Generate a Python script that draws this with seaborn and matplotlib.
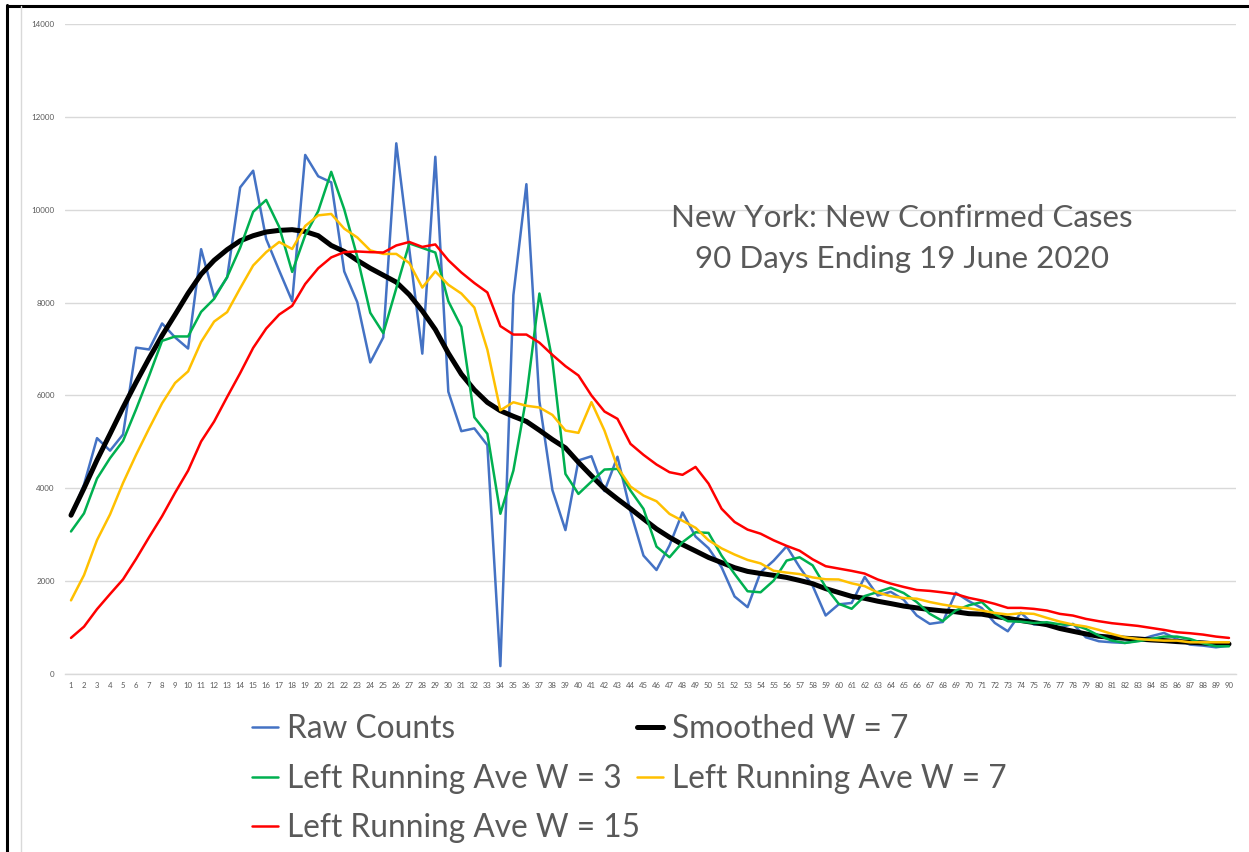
import numpy as np
import pandas as pd
import seaborn as sns
import matplotlib.pyplot as plt
from matplotlib.lines import Line2D

days = list(range(1, 91))

raw_counts = [
    3400, 4080, 5080, 4810, 5160, 7030, 6990, 7550, 7250, 7010,
    9150, 8120, 8540, 10480, 10840, 9370, 8690, 8030, 11180, 10720,
    10590, 8670, 8010, 6710, 7250, 11430, 9150, 6900, 11140, 6080,
    5230, 5290, 4930, 170, 8160, 10550, 5880, 3960, 3100, 4600,
    4690, 3940, 4680, 3500, 2550, 2240, 2770, 3480, 2960, 2710,
    2300, 1670, 1440, 2190, 2440, 2750, 2300, 1900, 1260, 1500,
    1530, 2090, 1690, 1770, 1600, 1260, 1080, 1120, 1750, 1570,
    1420, 1100, 920, 1320, 1065, 1080, 1000, 1080, 790, 705,
    683, 669, 719, 813, 885, 755, 633, 611, 575, 611,
]

smoothed_w7 = [
    3420, 4000, 4610, 5170, 5740, 6280, 6800, 7290, 7740, 8200,
    8610, 8910, 9140, 9330, 9440, 9520, 9555, 9570, 9530, 9440,
    9230, 9100, 8910, 8740, 8590, 8440, 8170, 7820, 7420, 6910,
    6460, 6120, 5850, 5670, 5550, 5440, 5250, 5050, 4870, 4560,
    4270, 3990, 3770, 3560, 3340, 3125, 2945, 2787, 2650, 2510,
    2400, 2290, 2210, 2165, 2125, 2080, 2015, 1945, 1839, 1755,
    1672, 1630, 1568, 1517, 1463, 1424, 1388, 1359, 1340, 1300,
    1289, 1242, 1199, 1152, 1109, 1062, 980, 921, 863, 813,
    791, 770, 755, 734, 719, 698, 683, 669, 647, 647,
]

left_ave_w3 = [
    3070, 3460, 4210, 4650, 5020, 5700, 6420, 7175, 7270, 7270,
    7800, 8080, 8550, 9180, 9955, 10210, 9630, 8660, 9450, 9970,
    10816, 10008, 8988, 7780, 7342, 8308, 9275, 9177, 9078, 8029,
    7477, 5529, 5174, 3452, 4381, 5967, 8195, 6750, 4310, 3879,
    4145, 4404, 4418, 3951, 3556, 2744, 2514, 2838, 3053, 3039,
    2550, 2155, 1782, 1760, 2011, 2443, 2514, 2340, 1874, 1513,
    1405, 1679, 1766, 1859, 1744, 1550, 1297, 1139, 1369, 1480,
    1550, 1290, 1137, 1127, 1098, 1115, 1070, 1065, 971, 827,
    719, 669, 705, 755, 806, 806, 755, 662, 597, 597,
]

left_ave_w7 = [
    1586, 2130, 2885, 3437, 4116, 4721, 5287, 5831, 6269, 6518,
    7153, 7591, 7795, 8308, 8799, 9086, 9305, 9154, 9650, 9879,
    9909, 9592, 9403, 9124, 9048, 9048, 8852, 8323, 8671, 8384,
    8195, 7893, 6986, 5680, 5853, 5778, 5740, 5580, 5244, 5194,
    5855, 5244, 4454, 4037, 3843, 3721, 3448, 3300, 3150, 2880,
    2706, 2573, 2457, 2382, 2224, 2184, 2152, 2080, 2040, 2036,
    1953, 1892, 1755, 1676, 1636, 1622, 1550, 1495, 1450, 1415,
    1367, 1316, 1281, 1309, 1295, 1209, 1129, 1065, 1022, 950,
    863, 791, 755, 734, 719, 719, 683, 683, 683, 683,
]

left_ave_w15 = [
    778, 1020, 1397, 1722, 2039, 2477, 2946, 3399, 3905, 4381,
    5008, 5438, 5967, 6480, 7024, 7440, 7742, 7931, 8400, 8739,
    8973, 9086, 9101, 9086, 9078, 9230, 9305, 9199, 9252, 8912,
    8648, 8421, 8218, 7493, 7311, 7311, 7137, 6873, 6631, 6430,
    5999, 5654, 5496, 4957, 4720, 4512, 4346, 4290, 4460, 4100,
    3560, 3275, 3110, 3022, 2880, 2760, 2655, 2470, 2322, 2271,
    2221, 2163, 2036, 1947, 1875, 1810, 1790, 1758, 1722, 1640,
    1583, 1511, 1424, 1424, 1403, 1367, 1295, 1259, 1187, 1137,
    1094, 1065, 1036, 993, 950, 899, 878, 849, 806, 777,
]

df = pd.DataFrame({
    "Day": days,
    "Raw Counts": raw_counts,
    "Smoothed W = 7": smoothed_w7,
    "Left Running Ave W = 3": left_ave_w3,
    "Left Running Ave W = 7": left_ave_w7,
    "Left Running Ave W = 15": left_ave_w15,
})

styles = {
    "Raw Counts": ("#4472C4", 1.8),
    "Smoothed W = 7": ("#000000", 3.6),
    "Left Running Ave W = 3": ("#00B050", 1.8),
    "Left Running Ave W = 7": ("#FFC000", 1.8),
    "Left Running Ave W = 15": ("#FF0000", 1.8),
}

sns.set_style("white")
plt.rcParams["font.family"] = ["Lato", "DejaVu Sans"]

W, H = 1249, 852
fig = plt.figure(figsize=(W / 100, H / 100), dpi=100)
ax = fig.add_axes([64.5 / W, 1 - 674 / H, (1235.5 - 64.5) / W, (674 - 24) / H])

for name, (col, lw) in styles.items():
    sns.lineplot(data=df, x="Day", y=name, color=col, linewidth=lw, ax=ax, label=name, legend=False)

ax.set_xlim(0.5, 90.5)
ax.set_ylim(0, 14000)
ax.set_xticks(days)
ax.set_xticklabels([str(d) for d in days])
ax.set_yticks(range(0, 14001, 2000))
ax.set_xlabel("")
ax.set_ylabel("")
ax.grid(axis="y", color="#d9d9d9", linewidth=1.0)
ax.grid(axis="x", visible=False)
ax.set_axisbelow(True)
for s in ["top", "right", "left"]:
    ax.spines[s].set_visible(False)
ax.spines["bottom"].set_color("#d9d9d9")
ax.spines["bottom"].set_linewidth(1.0)
ax.tick_params(axis="both", length=0, colors="#595959")
ax.tick_params(axis="x", labelsize=5.6, pad=6)
ax.tick_params(axis="y", labelsize=5.8, pad=7)

fig.text(902 / W, 1 - 218 / H, "New York: New Confirmed Cases", ha="center", va="center",
         fontsize=22.6, color="#595959")
fig.text(902 / W, 1 - 259 / H, "90 Days Ending 19 June 2020", ha="center", va="center",
         fontsize=22.6, color="#595959")

order = ["Raw Counts", "Left Running Ave W = 3", "Left Running Ave W = 15",
         "Smoothed W = 7", "Left Running Ave W = 7"]
handles = [Line2D([], [], color=styles[n][0], linewidth=styles[n][1]) for n in order]
leg = fig.legend(handles, order, loc="upper left", bbox_to_anchor=(252 / W, 1 - 714 / H),
                 ncol=2, frameon=False, fontsize=22.8, handlelength=0.82, handletextpad=0.28,
                 labelspacing=0.62, columnspacing=-0.1, borderpad=0, borderaxespad=0)
for t in leg.get_texts():
    t.set_color("#595959")

# chart frame lines
fig.add_artist(Line2D([7 / W, 7 / W], [0, 1 - 5 / H], color="black", linewidth=2.2,
                      transform=fig.transFigure))
fig.add_artist(Line2D([7 / W, 1], [1 - 5.5 / H, 1 - 5.5 / H], color="black", linewidth=2.2,
                      transform=fig.transFigure))
fig.add_artist(Line2D([21 / W, 21 / W], [0, 1 - 6 / H], color="#d9d9d9", linewidth=1.0,
                      transform=fig.transFigure))

fig.savefig("out.png", dpi=100)
